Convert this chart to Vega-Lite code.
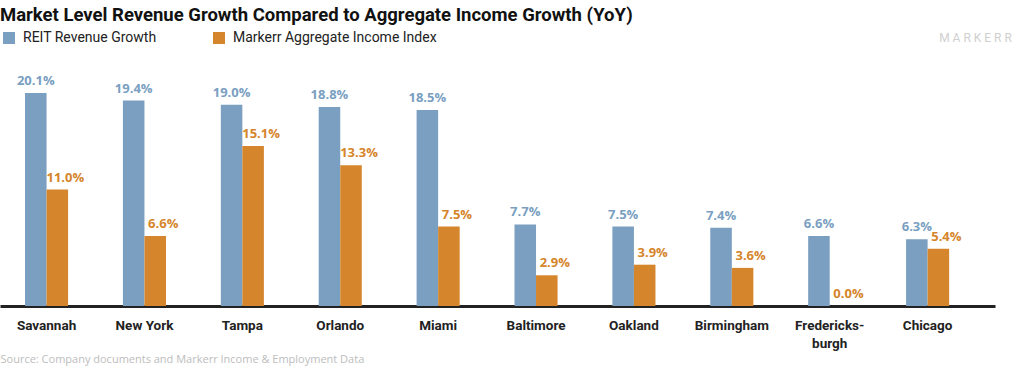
{
  "$schema": "https://vega.github.io/schema/vega-lite/v6.json",
  "width": 995,
  "height": 233,
  "autosize": "none",
  "padding": {"left": 0, "top": 73, "right": 29, "bottom": 60},
  "background": "white",
  "title": {
    "text": "Market Level Revenue Growth Compared to Aggregate Income Growth (YoY)",
    "anchor": "start",
    "frame": "group",
    "font": "Roboto",
    "fontSize": 18.5,
    "fontWeight": "bold",
    "color": "#111111",
    "offset": 7
  },
  "data": {
    "values": [
      {"city": "Savannah", "series": "REIT Revenue Growth", "value": 0.201},
      {"city": "Savannah", "series": "Markerr Aggregate Income Index", "value": 0.110},
      {"city": "New York", "series": "REIT Revenue Growth", "value": 0.194},
      {"city": "New York", "series": "Markerr Aggregate Income Index", "value": 0.066},
      {"city": "Tampa", "series": "REIT Revenue Growth", "value": 0.190},
      {"city": "Tampa", "series": "Markerr Aggregate Income Index", "value": 0.151},
      {"city": "Orlando", "series": "REIT Revenue Growth", "value": 0.188},
      {"city": "Orlando", "series": "Markerr Aggregate Income Index", "value": 0.133},
      {"city": "Miami", "series": "REIT Revenue Growth", "value": 0.185},
      {"city": "Miami", "series": "Markerr Aggregate Income Index", "value": 0.075},
      {"city": "Baltimore", "series": "REIT Revenue Growth", "value": 0.077},
      {"city": "Baltimore", "series": "Markerr Aggregate Income Index", "value": 0.029},
      {"city": "Oakland", "series": "REIT Revenue Growth", "value": 0.075},
      {"city": "Oakland", "series": "Markerr Aggregate Income Index", "value": 0.039},
      {"city": "Birmingham", "series": "REIT Revenue Growth", "value": 0.074},
      {"city": "Birmingham", "series": "Markerr Aggregate Income Index", "value": 0.036},
      {"city": "Fredericksburg", "series": "REIT Revenue Growth", "value": 0.066},
      {"city": "Fredericksburg", "series": "Markerr Aggregate Income Index", "value": 0.000},
      {"city": "Chicago", "series": "REIT Revenue Growth", "value": 0.063},
      {"city": "Chicago", "series": "Markerr Aggregate Income Index", "value": 0.054}
    ]
  },
  "encoding": {
    "x": {
      "field": "city",
      "type": "nominal",
      "sort": null,
      "scale": {"paddingInner": 0.56, "paddingOuter": 0.362, "align": 0.353},
      "axis": {
        "title": "Source: Company documents and Markerr Income & Employment Data",
        "titleFont": "Open Sans",
        "titleFontSize": 11,
        "titleFontWeight": "normal",
        "titleColor": "#bdbdbd",
        "titleAnchor": "start",
        "titleAlign": "left",
        "titleBaseline": "alphabetic",
        "titleX": 0,
        "titleY": 56,
        "labelAngle": 0,
        "labelFont": "Roboto",
        "labelFontSize": 13.5,
        "labelFontWeight": "bold",
        "labelColor": "#222222",
        "labelPadding": 12,
        "labelLineHeight": 18,
        "labelExpr": "datum.value == 'Fredericksburg' ? ['Fredericks-', 'burgh'] : datum.value",
        "ticks": false,
        "domainColor": "#222222",
        "domainWidth": 3
      }
    },
    "xOffset": {
      "field": "series",
      "type": "nominal",
      "sort": ["REIT Revenue Growth", "Markerr Aggregate Income Index"],
      "scale": {"paddingInner": 0, "paddingOuter": 0}
    },
    "y": {
      "field": "value",
      "type": "quantitative",
      "scale": {"domain": [0, 0.22], "nice": false},
      "axis": {
        "orient": "right",
        "title": "M  A  R  K  E  R  R",
        "titleAngle": 0,
        "titleFont": "Roboto",
        "titleFontSize": 12,
        "titleFontWeight": "normal",
        "titleColor": "#cfcfcf",
        "titleAlign": "center",
        "titleBaseline": "middle",
        "titleX": -20,
        "titleY": -36,
        "labels": false,
        "ticks": false,
        "domain": false,
        "grid": false
      }
    }
  },
  "layer": [
    {
      "mark": {"type": "bar"},
      "encoding": {
        "color": {
          "field": "series",
          "type": "nominal",
          "sort": ["REIT Revenue Growth", "Markerr Aggregate Income Index"],
          "scale": {"domain": ["REIT Revenue Growth", "Markerr Aggregate Income Index"], "range": ["#7a9fc1", "#d5852b"]},
          "legend": {
            "title": null,
            "orient": "none",
            "legendX": 2,
            "legendY": -42,
            "direction": "horizontal",
            "symbolType": "square",
            "symbolSize": 144,
            "symbolStrokeWidth": 0,
            "symbolOpacity": 1,
            "labelFont": "Roboto",
            "labelFontSize": 14,
            "labelColor": "#222222",
            "labelOffset": 7,
            "labelLimit": 400,
            "columnPadding": 55,
            "padding": 0
          }
        }
      }
    },
    {
      "transform": [{"filter": "datum.series == 'REIT Revenue Growth'"}],
      "mark": {"type": "text", "baseline": "alphabetic", "dy": -8, "font": "Open Sans", "fontSize": 13, "fontWeight": "bold", "color": "#7a9fc1"},
      "encoding": {
        "text": {"field": "value", "type": "quantitative", "format": ".1%"}
      }
    },
    {
      "transform": [{"filter": "datum.series == 'Markerr Aggregate Income Index'"}],
      "mark": {"type": "text", "baseline": "alphabetic", "dy": -8, "dx": 8, "font": "Open Sans", "fontSize": 13, "fontWeight": "bold", "color": "#d5852b"},
      "encoding": {
        "text": {"field": "value", "type": "quantitative", "format": ".1%"}
      }
    }
  ],
  "config": {
    "view": {"stroke": null}
  }
}
